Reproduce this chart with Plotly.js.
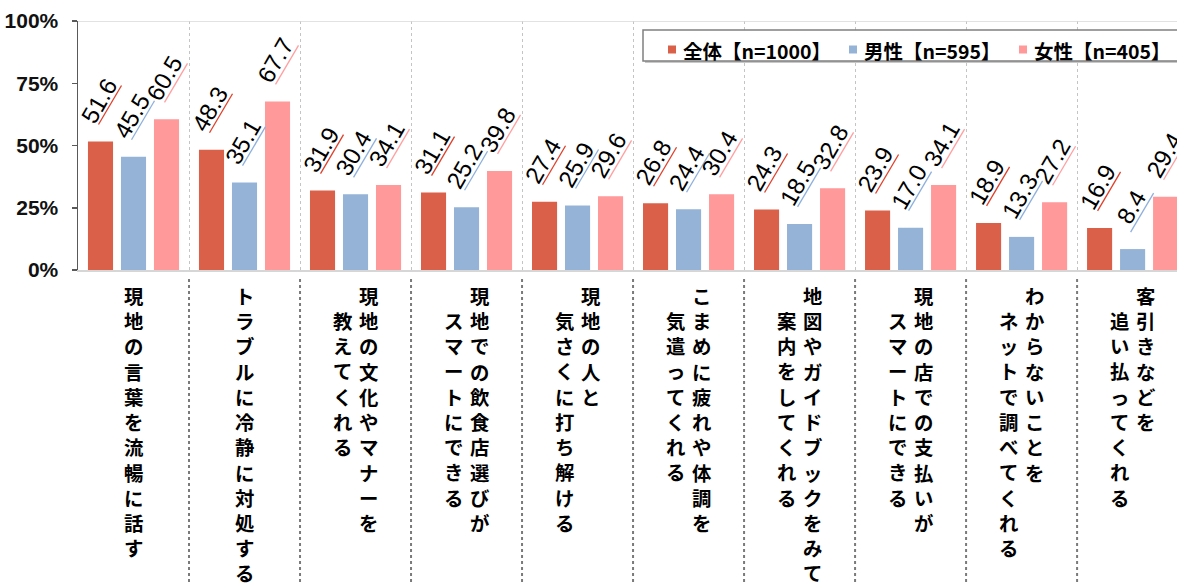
<!DOCTYPE html>
<html><head><meta charset="utf-8">
<script src="https://cdn.plot.ly/plotly-3.0.1.min.js"></script>
<style>html,body{margin:0;padding:0;background:#fff}</style>
</head><body><div id="chart" style="width:1177px;height:584px"></div>
<script>
// ---- data ----
const categories = [
  ['現地の言葉を流暢に話す'],
  ['トラブルに冷静に対処する'],
  ['現地の文化やマナーを', '教えてくれる'],
  ['現地での飲食店選びが', 'スマートにできる'],
  ['現地の人と', '気さくに打ち解ける'],
  ['こまめに疲れや体調を', '気遣ってくれる'],
  ['地図やガイドブックをみて', '案内をしてくれる'],
  ['現地の店での支払いが', 'スマートにできる'],
  ['わからないことを', 'ネットで調べてくれる'],
  ['客引きなどを', '追い払ってくれる']
];
const seriesNames = ['全体【n=1000】', '男性【n=595】', '女性【n=405】'];
const allValues    = [51.6, 48.3, 31.9, 31.1, 27.4, 26.8, 24.3, 23.9, 18.9, 16.9];
const maleValues   = [45.5, 35.1, 30.4, 25.2, 25.9, 24.4, 18.5, 17.0, 13.3, 8.4];
const femaleValues = [60.5, 67.7, 34.1, 39.8, 29.6, 30.4, 32.8, 34.1, 27.2, 29.4];
const yTickVals = [0, 25, 50, 75, 100];
const yTickText = ['0%', '25%', '50%', '75%', '100%'];

// ---- style ----
const barColors  = ['#DB604A', '#95B3D7', '#FF999A'];
const lineColors = ['#E0402A', '#8FB0DC', '#FF9FA0'];
const W = 1177, H = 584, L = 78, T = 21, PB = 270;
const plotW = W - L, plotH = PB - T;
const xRange = [-0.5, 9.4];
const bargap = 0.108, bargroupgap = 0.24;
const slot = (1 - bargap) / 3;
const pxX = px => (px - L) / plotW;
const pxY = py => (PB - py) / plotH;

const series = [allValues, maleValues, femaleValues];
const xIdx = categories.map((c, i) => i);

const traces = series.map((vals, s) => ({
  type: 'bar', x: xIdx, y: vals, name: seriesNames[s],
  marker: {color: barColors[s], line: {width: 0}},
  hoverinfo: 'skip'
}));

const annotations = [];
const shapes = [];

// value labels + leader lines
series.forEach((vals, s) => {
  vals.forEach((v, k) => {
    const xc = k + (s - 1) * slot;
    annotations.push({
      x: xc, y: v, xref: 'x', yref: 'y', text: v.toFixed(1), showarrow: false,
      textangle: -60, xanchor: 'center', yanchor: 'middle', xshift: -1.6, yshift: 41.5,
      font: {family: 'Liberation Sans, Arial, sans-serif', size: 24, color: '#000'}
    });
    shapes.push({
      type: 'line', xref: 'x', yref: 'y', xsizemode: 'pixel', ysizemode: 'pixel',
      xanchor: xc, yanchor: v, x0: -2, x1: 21, y0: 17, y1: 56,
      line: {color: lineColors[s], width: 1.3}
    });
  });
});

// category labels (vertical, columns right-to-left)
categories.forEach((cols, k) => {
  cols.forEach((col, c) => {
    let xs = 0;
    if (cols.length === 2) xs = (c === 0) ? 13 : -13;
    annotations.push({
      x: k, xref: 'x', y: pxY(279 + c * 25.2), yref: 'paper',
      xanchor: 'center', yanchor: 'top', xshift: xs, showarrow: false,
      text: Array.from(col).join('<br>'),
      font: {family: 'Noto Sans CJK JP, sans-serif', size: 19.4, color: '#000', weight: 700}
    });
  });
});

// separators in label area
for (let k = 0; k < categories.length - 1; k++) {
  shapes.push({
    type: 'line', xref: 'x', yref: 'paper', x0: k + 0.5, x1: k + 0.5,
    y0: pxY(279), y1: pxY(584), line: {color: '#7A7A7A', width: 2, dash: 'dot'}
  });
}
// top border of plot
shapes.push({type: 'line', xref: 'paper', yref: 'y', x0: 0, x1: 1, y0: 100, y1: 100,
  line: {color: '#D9D9D9', width: 1.5}});

// manual legend
shapes.push({type: 'rect', xref: 'paper', yref: 'paper', x0: pxX(645), x1: pxX(1182), y0: pxY(33), y1: pxY(63),
  fillcolor: '#C8C8C8', line: {width: 0}});
shapes.push({type: 'rect', xref: 'paper', yref: 'paper', x0: pxX(643), x1: pxX(1180), y0: pxY(30), y1: pxY(61),
  fillcolor: '#FFFFFF', line: {color: '#808080', width: 1.5}});
const legSq = [668, 849, 1019];
const legTx = [681, 862, 1032];
seriesNames.forEach((n, s) => {
  shapes.push({type: 'rect', xref: 'paper', yref: 'paper', x0: pxX(legSq[s]), x1: pxX(legSq[s] + 8),
    y0: pxY(45.5), y1: pxY(53.5), fillcolor: barColors[s], line: {width: 0}});
  annotations.push({x: pxX(legTx[s]), xref: 'paper', y: pxY(50.5), yref: 'paper', xanchor: 'left', yanchor: 'middle',
    showarrow: false, text: n,
    font: {family: 'Noto Sans CJK JP, sans-serif', size: 19.5, color: '#000', weight: 700}});
});

const layout = {
  width: W, height: H,
  margin: {l: L, r: 0, t: T, b: H - PB, pad: 0},
  paper_bgcolor: '#fff', plot_bgcolor: '#fff',
  barmode: 'group', bargap: bargap, bargroupgap: bargroupgap,
  showlegend: false,
  xaxis: {
    range: xRange, tickvals: [0.5, 1.5, 2.5, 3.5, 4.5, 5.5, 6.5, 7.5, 8.5],
    showticklabels: false, ticks: '', showgrid: true, gridcolor: '#C4C4C4', griddash: 'dot', gridwidth: 1,
    showline: true, linecolor: '#D6D6D6', linewidth: 2, zeroline: false, fixedrange: true
  },
  yaxis: {
    range: [0, 100], tickvals: yTickVals, ticktext: yTickText,
    showgrid: false, zeroline: false, showline: true, linecolor: '#595959', linewidth: 1.5,
    ticks: 'outside', ticklen: 5, tickwidth: 1.5, tickcolor: '#595959', ticklabelstandoff: 9,
    tickfont: {family: 'Liberation Sans Narrow, Arial Narrow, sans-serif', size: 21, color: '#111', weight: 700},
    fixedrange: true
  },
  annotations: annotations,
  shapes: shapes
};

Plotly.newPlot('chart', traces, layout, {displayModeBar: false, staticPlot: true});
</script>
</body></html>
